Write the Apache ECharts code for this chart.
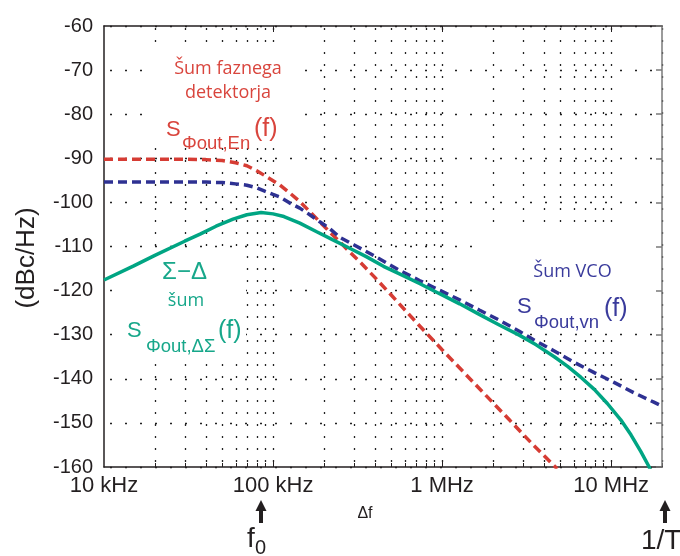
<!DOCTYPE html>
<html><head><meta charset="utf-8">
<script src="https://cdn.jsdelivr.net/npm/echarts@6/dist/echarts.min.js"></script>
<style>html,body{margin:0;padding:0;background:#fff}#c{width:680px;height:556px}</style>
</head><body><div id="c"></div>
<script>
// ---- axis ticks ----
const xTickValues = [1e4, 1e5, 1e6, 1e7];
const xTickLabels = ['10 kHz', '100 kHz', '1 MHz', '10 MHz'];
const gridMultipliers = [1, 2, 3, 4, 5, 6, 7, 8, 9];
const yMin = -160, yMax = -60, yStep = 10;
const xMin = 1e4, xMax = 2e7;

// ---- phase detector noise (red dashed) ----
const enFreq = [1e4, 2e4, 3e4, 4e4, 5e4, 6e4, 7e4, 8e4, 9e4, 1e5, 1.1e5, 1.25e5, 1.44e5, 1.65e5, 1.89e5, 2.2e5, 2.48e5, 2.8e5, 3.25e5, 4e5, 5e5, 7e5, 1e6, 1.66e6, 2.5e6, 3.5e6, 4.8e6];
const enVal  = [-90.2, -90.2, -90.2, -90.3, -90.5, -91.0, -91.7, -92.8, -94.0, -95.1, -96.1, -97.8, -99.8, -102.1, -104.4, -107.0, -108.9, -111.0, -113.4, -117.0, -121.0, -127.1, -133.4, -142.2, -149.3, -155.2, -160.4];

// ---- VCO noise (blue dashed) ----
const vnFreq = [1e4, 2e4, 3e4, 4e4, 5e4, 6e4, 7e4, 8e4, 9e4, 1e5, 1.1e5, 1.25e5, 1.44e5, 1.65e5, 1.89e5, 2.16e5, 2.5e5, 3e5, 4e5, 5.6e5, 7.35e5, 9.66e5, 1.27e6, 1.66e6, 2.18e6, 2.86e6, 3.5e6, 4.61e6, 6.07e6, 7.95e6, 1.04e7, 1.37e7, 1.79e7, 2e7];
const vnVal  = [-95.4, -95.4, -95.4, -95.4, -95.5, -95.8, -96.1, -96.7, -97.5, -98.2, -98.8, -100.1, -101.3, -102.8, -104.4, -105.9, -108.0, -109.6, -112.2, -115.4, -117.7, -119.9, -122.1, -124.4, -126.7, -129.2, -131.2, -133.7, -136.3, -138.6, -140.8, -143.2, -145.3, -146.2];

// ---- Sigma-Delta noise (green solid) ----
const sdFreq = [1e4, 1.5e4, 2e4, 3e4, 3.7e4, 4.6e4, 5.8e4, 7e4, 8.5e4, 1e5, 1.16e5, 1.44e5, 1.8e5, 2.26e5, 2.84e5, 3.56e5, 4.5e5, 5.6e5, 7.35e5, 9.66e5, 1.27e6, 1.66e6, 2.18e6, 2.86e6, 3.6e6, 4.61e6, 5.53e6, 6.64e6, 7.95e6, 9.5e6, 1.14e7, 1.31e7, 1.5e7, 1.68e7, 1.72e7];
const sdVal  = [-117.6, -114.4, -112.0, -108.8, -107.2, -105.4, -103.8, -102.8, -102.3, -102.6, -103.2, -104.7, -106.6, -108.5, -110.4, -112.3, -114.5, -116.2, -118.4, -120.7, -123.0, -125.4, -127.8, -130.1, -132.3, -135.0, -137.2, -139.7, -142.4, -145.6, -149.3, -152.7, -156.5, -160.0, -161.0];

const RED = '#d63c34', BLUE = '#2e3192', GREEN = '#00a583';
const RED_T = '#d9453d', BLUE_T = '#3a3b9c', GREEN_T = '#17a78a';
const AX = '#231f20';
const DOT = '#222222';
const SANS = '"Liberation Sans", Arial, sans-serif';
const CAL = '"Open Sans", sans-serif';

const zip = (a, b) => a.map((f, i) => [f, b[i]]);

const gridLines = [];
xTickValues.forEach(d => gridMultipliers.forEach(m => {
  const f = d * m;
  if (f <= xMax) gridLines.push([f, -110, m === 1 ? 1 : 0]);
}));

function xLabel(v) {
  const i = xTickValues.findIndex(t => Math.abs(Math.log10(t) - Math.log10(v)) < 1e-6);
  return i >= 0 ? xTickLabels[i] : '';
}

const chart = echarts.init(document.getElementById('c'), null, { renderer: 'canvas' });

function txt(text, x, y, size, color, family, align, z) {
  return { type: 'text', z: z || 10, silent: true,
    style: { text, x, y, font: size + 'px ' + family, fill: color,
      align: align || 'left', verticalAlign: 'middle',
      textAlign: align || 'left', textVerticalAlign: 'middle' } };
}
function whiteBox(x, y, w, h) {
  return { type: 'rect', z: 1, silent: true, shape: { x, y, width: w, height: h }, style: { fill: '#ffffff' } };
}
function arrow(cx) {
  return [
    { type: 'polygon', z: 10, silent: true, shape: { points: [[cx - 5.5, 511], [cx + 5.5, 511], [cx, 500]] }, style: { fill: AX } },
    { type: 'rect', z: 10, silent: true, shape: { x: cx - 2, y: 510, width: 4, height: 13 }, style: { fill: AX } }
  ];
}

const lineCommon = { type: 'line', z: 3, showSymbol: false, symbol: 'none', smooth: false };

const option = {
  animation: false,
  backgroundColor: '#ffffff',
  grid: { left: 104, right: 18, top: 26, bottom: 89 },
  xAxis: [
    { type: 'log', logBase: 10, min: xMin, max: xMax, position: 'bottom',
      axisLine: { show: true, lineStyle: { color: AX, width: 1.5 } },
      axisTick: { show: false },
      axisLabel: { show: true, formatter: xLabel, fontFamily: SANS, fontSize: 22, color: AX, margin: 8, showMaxLabel: false },
      splitLine: { show: false }, minorTick: { show: false } },
    { type: 'log', logBase: 10, min: xMin, max: xMax, position: 'top',
      axisLine: { show: true, lineStyle: { color: AX, width: 1.5 } },
      axisTick: { show: false }, axisLabel: { show: false }, splitLine: { show: false } }
  ],
  yAxis: [
    { type: 'value', min: yMin, max: yMax, interval: yStep, position: 'left',
      axisLine: { show: true, lineStyle: { color: AX, width: 1.5 } },
      axisTick: { show: false },
      axisLabel: { fontFamily: SANS, fontSize: 20, color: AX, margin: 11 },
      splitLine: { show: true, lineStyle: { color: DOT, width: 1.3, type: [2, 13], dashOffset: -6 } } },
    { type: 'value', min: yMin, max: yMax, interval: yStep, position: 'right',
      axisLine: { show: true, lineStyle: { color: '#7a7a7a', width: 1.5 } },
      axisTick: { show: true, inside: true, length: 6, lineStyle: { color: '#7a7a7a', width: 1.5 } },
      axisLabel: { show: false }, splitLine: { show: false } }
  ],
  series: [
    { type: 'custom', z: 0, silent: true, clip: false, xAxisIndex: 0, yAxisIndex: 0,
      encode: { x: 0, y: 1 },
      data: gridLines,
      renderItem: function (params, api) {
        const f = api.value(0), major = api.value(2);
        const top = api.coord([f, yMax]);
        const bot = api.coord([f, yMin]);
        const x = Math.round(top[0]) + 0.5;
        const children = [];
        if (f > xMin) {
          children.push({ type: 'line', shape: { x1: x, y1: top[1] + 2, x2: x, y2: bot[1] },
            style: { stroke: DOT, lineWidth: 1.3, lineDash: [2, 10] } });
          children.push({ type: 'line', shape: { x1: x, y1: bot[1], x2: x, y2: bot[1] - (major ? 6 : 4) },
            style: { stroke: AX, lineWidth: 1 } });
          if (major) children.push({ type: 'line', shape: { x1: x, y1: top[1], x2: x, y2: top[1] + 6 },
            style: { stroke: AX, lineWidth: 1 } });
        }
        return { type: 'group', children };
      } },
    Object.assign({ name: 'En', data: zip(enFreq, enVal), lineStyle: { color: RED, width: 3.5, type: [9, 5] } }, lineCommon),
    Object.assign({ name: 'vn', data: zip(vnFreq, vnVal), lineStyle: { color: BLUE, width: 3.5, type: [9, 5] } }, lineCommon),
    Object.assign({ name: 'SD', data: zip(sdFreq, sdVal), lineStyle: { color: GREEN, width: 3.5 } }, lineCommon)
  ],
  graphic: { elements: [
    whiteBox(148, 52, 152, 92),
    whiteBox(124, 256, 122, 106),
    whiteBox(478, 232, 177, 101),
    // red labels
    txt('Šum faznega', 228, 69, 18, RED_T, CAL, 'center'),
    txt('detektorja', 228, 93, 18, RED_T, CAL, 'center'),
    txt('S', 166, 130, 22, RED_T, SANS),
    txt('Φout,En', 182, 144, 18.5, RED_T, SANS),
    txt('(f)', 254, 129, 25, RED_T, SANS),
    // green labels
    txt('Σ−Δ', 184.5, 272.5, 24, GREEN_T, SANS, 'center'),
    txt('šum', 186, 301, 18, GREEN_T, CAL, 'center'),
    txt('S', 127, 331, 22, GREEN_T, SANS),
    txt('Φout,ΔΣ', 146, 347, 18.5, GREEN_T, SANS),
    txt('(f)', 218, 331, 25, GREEN_T, SANS),
    // blue labels
    txt('Šum VCO', 572.5, 271.5, 18, BLUE_T, CAL, 'center'),
    txt('S', 517, 307, 22, BLUE_T, SANS),
    txt('Φout,vn', 534, 323, 18.5, BLUE_T, SANS),
    txt('(f)', 604, 309, 25, BLUE_T, SANS),
    // axis title
    { type: 'text', z: 10, silent: true, x: 27, y: 258, rotation: Math.PI / 2,
      style: { text: '(dBc/Hz)', font: '26px ' + SANS, fill: AX, align: 'center', verticalAlign: 'middle', textAlign: 'center', textVerticalAlign: 'middle' } },
    txt('Δf', 365, 514, 16, AX, SANS, 'center'),
    ...arrow(261),
    ...arrow(665),
    txt('f', 247, 539, 28, AX, SANS),
    txt('0', 255, 548, 20, AX, SANS),
    txt('1/T', 641, 541, 28, AX, SANS)
  ] }
};
chart.setOption(option);
</script>
</body></html>
